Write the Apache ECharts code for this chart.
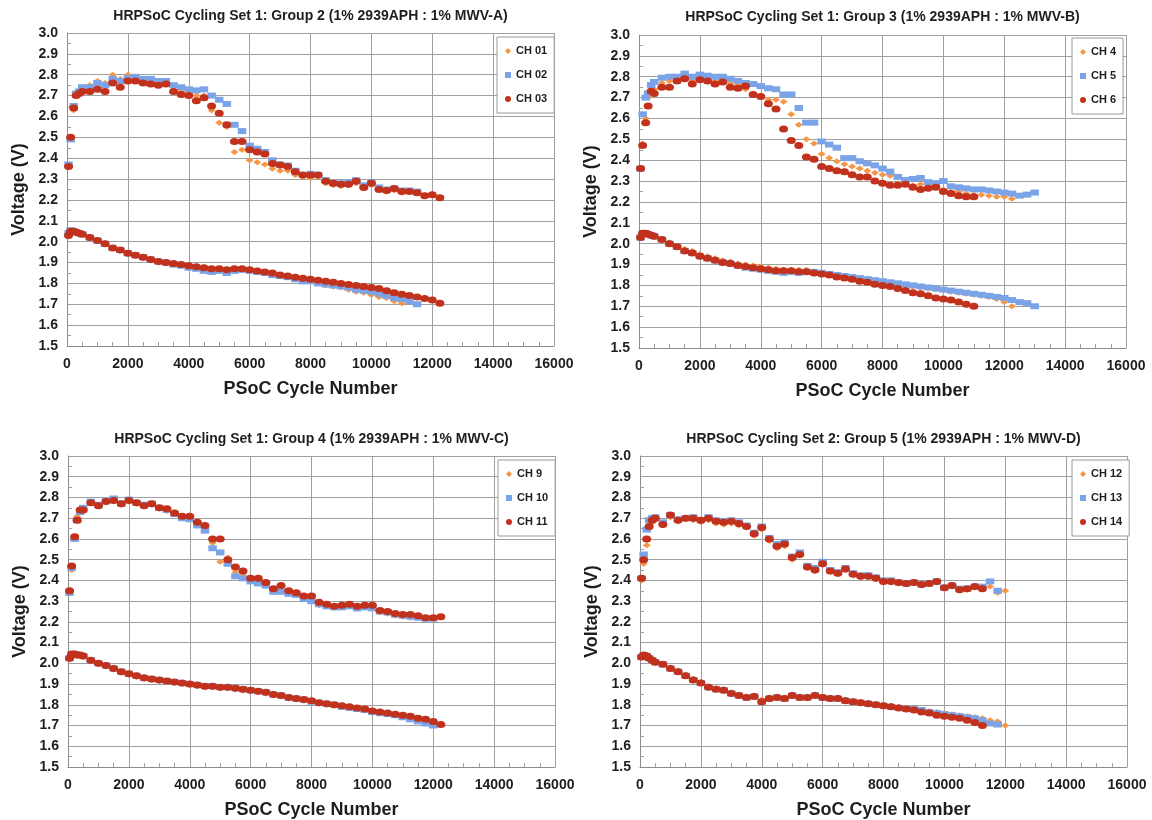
<!DOCTYPE html>
<html>
<head>
<meta charset="utf-8">
<title>HRPSoC Cycling</title>
<script src="https://cdn.jsdelivr.net/npm/echarts@6.0.0/dist/echarts.min.js"></script>
<style>
  html, body { margin: 0; padding: 0; background: #fff; }
  #chart { width: 1152px; height: 820px; }
</style>
</head>
<body>
<div id="chart"></div>
<script>
const cycles = [50, 120, 220, 300, 400, 500,
  750, 1000, 1250, 1500, 1750, 2000, 2250, 2500, 2750, 3000, 3250, 3500, 3750, 4000,
  4250, 4500, 4750, 5000, 5250, 5500, 5750, 6000, 6250, 6500, 6750, 7000,
  7250, 7500, 7750, 8000, 8250, 8500, 8750, 9000, 9250, 9500, 9750, 10000,
  10250, 10500, 10750, 11000, 11250, 11500, 11750, 12000, 12250, 12500, 12750, 13000]

const xTicks = [0, 2000, 4000, 6000, 8000, 10000, 12000, 14000, 16000]
const yTicks = [1.5, 1.6, 1.7, 1.8, 1.9, 2.0, 2.1, 2.2, 2.3, 2.4, 2.5, 2.6, 2.7, 2.8, 2.9, 3.0]

// ---- Group 2 (MWV-A) : upper = end of charge, lower = end of discharge ----
const ch01Up = [2.36, 2.50, 2.63, 2.71, 2.72, 2.74,
  2.75, 2.77, 2.76, 2.80, 2.78, 2.80, 2.79, 2.78, 2.78, 2.77, 2.76, 2.74, 2.72, 2.71,
  2.70, 2.70, 2.63, 2.57, 2.55, 2.43, 2.44, 2.39, 2.38, 2.37, 2.35, 2.34,
  2.34, 2.32, 2.31, 2.305, 2.31, 2.28, 2.27, 2.265, 2.27, 2.28, 2.255, 2.27,
  2.25, 2.24, 2.245, 2.235]
const ch01Lo = [2.03, 2.05, 2.05, 2.045, 2.04, 2.035,
  2.02, 2.005, 1.99, 1.97, 1.96, 1.945, 1.935, 1.92, 1.91, 1.90, 1.895, 1.89, 1.885, 1.88,
  1.875, 1.87, 1.865, 1.865, 1.865, 1.87, 1.865, 1.86, 1.855, 1.85, 1.84, 1.835,
  1.83, 1.82, 1.81, 1.81, 1.80, 1.79, 1.785, 1.78, 1.77, 1.76, 1.755, 1.745,
  1.735, 1.73, 1.715, 1.705]
const ch02Up = [2.37, 2.49, 2.65, 2.71, 2.72, 2.74,
  2.74, 2.76, 2.75, 2.78, 2.77, 2.785, 2.79, 2.78, 2.78, 2.77, 2.77, 2.75, 2.74, 2.73,
  2.725, 2.73, 2.70, 2.68, 2.66, 2.56, 2.53, 2.46, 2.445, 2.43, 2.39, 2.37,
  2.365, 2.34, 2.32, 2.325, 2.32, 2.295, 2.28, 2.28, 2.285, 2.295, 2.27, 2.285,
  2.26, 2.25, 2.255, 2.245, 2.245, 2.24]
const ch02Lo = [2.04, 2.055, 2.05, 2.045, 2.04, 2.035,
  2.02, 2.005, 1.99, 1.97, 1.96, 1.945, 1.935, 1.925, 1.915, 1.905, 1.90, 1.89, 1.885, 1.875,
  1.87, 1.86, 1.855, 1.86, 1.85, 1.86, 1.865, 1.86, 1.855, 1.85, 1.84, 1.835,
  1.83, 1.82, 1.81, 1.81, 1.80, 1.795, 1.79, 1.785, 1.78, 1.77, 1.765, 1.76,
  1.75, 1.74, 1.73, 1.725, 1.715, 1.70]
const ch03Up = [2.36, 2.50, 2.64, 2.70, 2.71, 2.72,
  2.72, 2.73, 2.72, 2.76, 2.74, 2.77, 2.77, 2.76, 2.755, 2.75, 2.755, 2.72, 2.705, 2.70,
  2.675, 2.69, 2.65, 2.615, 2.56, 2.48, 2.48, 2.44, 2.43, 2.42, 2.375, 2.367,
  2.36, 2.335, 2.32, 2.32, 2.32, 2.29, 2.28, 2.275, 2.275, 2.29, 2.26, 2.28,
  2.25, 2.245, 2.255, 2.24, 2.24, 2.235, 2.22, 2.225, 2.21]
const ch03Lo = [2.03, 2.05, 2.05, 2.045, 2.04, 2.035,
  2.02, 2.005, 1.99, 1.97, 1.96, 1.945, 1.935, 1.925, 1.915, 1.905, 1.90, 1.895, 1.89, 1.885,
  1.88, 1.875, 1.87, 1.87, 1.865, 1.87, 1.87, 1.865, 1.86, 1.855, 1.85, 1.84,
  1.835, 1.83, 1.825, 1.82, 1.815, 1.81, 1.805, 1.80, 1.795, 1.79, 1.785, 1.78,
  1.775, 1.765, 1.755, 1.748, 1.742, 1.735, 1.728, 1.72, 1.705]

// ---- Group 3 (MWV-B) ----
const ch4Up = [2.36, 2.48, 2.60, 2.70, 2.74, 2.74,
  2.77, 2.78, 2.78, 2.80, 2.78, 2.80, 2.79, 2.78, 2.785, 2.77, 2.76, 2.74, 2.72, 2.71,
  2.69, 2.69, 2.68, 2.62, 2.57, 2.50, 2.48, 2.43, 2.41, 2.395, 2.38, 2.37,
  2.36, 2.35, 2.34, 2.33, 2.325, 2.29, 2.285, 2.28, 2.285, 2.265, 2.275, 2.26,
  2.25, 2.25, 2.24, 2.235, 2.235, 2.23, 2.225, 2.225, 2.215]
const ch4Lo = [2.03, 2.05, 2.05, 2.045, 2.04, 2.035,
  2.02, 2.005, 1.99, 1.975, 1.965, 1.95, 1.94, 1.93, 1.92, 1.915, 1.905, 1.90, 1.895, 1.89,
  1.885, 1.88, 1.875, 1.875, 1.875, 1.875, 1.865, 1.86, 1.855, 1.85, 1.845, 1.84,
  1.835, 1.83, 1.82, 1.815, 1.81, 1.805, 1.80, 1.795, 1.79, 1.785, 1.78, 1.775,
  1.77, 1.765, 1.76, 1.755, 1.75, 1.745, 1.735, 1.72, 1.70]
const ch5Up = [2.36, 2.62, 2.70, 2.72, 2.76, 2.775,
  2.795, 2.80, 2.80, 2.815, 2.80, 2.81, 2.805, 2.80, 2.80, 2.79, 2.78, 2.77, 2.765, 2.755,
  2.745, 2.74, 2.715, 2.715, 2.65, 2.58, 2.58, 2.49, 2.475, 2.46, 2.41, 2.41,
  2.395, 2.385, 2.375, 2.36, 2.345, 2.32, 2.305, 2.31, 2.315, 2.295, 2.29, 2.30,
  2.275, 2.27, 2.265, 2.26, 2.26, 2.255, 2.25, 2.245, 2.24, 2.23, 2.235, 2.245]
const ch5Lo = [2.03, 2.05, 2.05, 2.045, 2.04, 2.035,
  2.02, 2.00, 1.985, 1.965, 1.955, 1.94, 1.93, 1.92, 1.91, 1.905, 1.895, 1.885, 1.88, 1.875,
  1.87, 1.865, 1.86, 1.865, 1.86, 1.865, 1.865, 1.86, 1.855, 1.85, 1.845, 1.84,
  1.835, 1.83, 1.825, 1.82, 1.815, 1.81, 1.805, 1.80, 1.795, 1.79, 1.785, 1.78,
  1.775, 1.77, 1.765, 1.76, 1.755, 1.75, 1.745, 1.74, 1.73, 1.72, 1.715, 1.70]
const ch6Up = [2.36, 2.47, 2.58, 2.66, 2.73, 2.72,
  2.75, 2.75, 2.78, 2.79, 2.765, 2.785, 2.78, 2.765, 2.775, 2.75, 2.745, 2.755, 2.715, 2.705,
  2.67, 2.645, 2.55, 2.495, 2.47, 2.415, 2.405, 2.37, 2.36, 2.35, 2.345, 2.33,
  2.32, 2.32, 2.30, 2.29, 2.28, 2.28, 2.285, 2.27, 2.26, 2.265, 2.27, 2.25,
  2.24, 2.23, 2.225, 2.225]
const ch6Lo = [2.03, 2.05, 2.05, 2.045, 2.04, 2.035,
  2.02, 2.00, 1.985, 1.965, 1.955, 1.94, 1.93, 1.92, 1.91, 1.905, 1.895, 1.89, 1.885, 1.88,
  1.875, 1.87, 1.87, 1.87, 1.865, 1.865, 1.86, 1.855, 1.85, 1.84, 1.835, 1.83,
  1.82, 1.815, 1.805, 1.80, 1.795, 1.785, 1.775, 1.765, 1.76, 1.75, 1.74, 1.735,
  1.73, 1.72, 1.71, 1.70]

// ---- Group 4 (MWV-C) ----
const ch9Up = [2.34, 2.45, 2.60, 2.71, 2.73, 2.745,
  2.775, 2.76, 2.78, 2.79, 2.765, 2.78, 2.77, 2.76, 2.765, 2.745, 2.735, 2.72, 2.70, 2.70,
  2.67, 2.645, 2.58, 2.49, 2.51, 2.44, 2.425, 2.40, 2.39, 2.385, 2.35, 2.355,
  2.34, 2.335, 2.315, 2.30, 2.28, 2.275, 2.27, 2.27, 2.28, 2.265, 2.27, 2.265,
  2.245, 2.24, 2.23, 2.225, 2.22, 2.22, 2.215, 2.215]
const ch9Lo = [2.02, 2.04, 2.04, 2.035, 2.035, 2.03,
  2.01, 1.995, 1.985, 1.97, 1.955, 1.945, 1.935, 1.925, 1.92, 1.915, 1.91, 1.905, 1.90, 1.895,
  1.89, 1.885, 1.885, 1.88, 1.88, 1.875, 1.87, 1.865, 1.86, 1.855, 1.845, 1.84,
  1.83, 1.825, 1.82, 1.815, 1.805, 1.80, 1.795, 1.79, 1.785, 1.78, 1.775, 1.765,
  1.76, 1.755, 1.75, 1.745, 1.735, 1.725, 1.715, 1.70]
const ch10Up = [2.34, 2.46, 2.60, 2.69, 2.73, 2.75,
  2.78, 2.765, 2.785, 2.795, 2.77, 2.79, 2.775, 2.765, 2.77, 2.75, 2.74, 2.72, 2.70, 2.695,
  2.665, 2.64, 2.555, 2.535, 2.48, 2.42, 2.41, 2.395, 2.385, 2.375, 2.345, 2.345,
  2.335, 2.33, 2.31, 2.30, 2.285, 2.275, 2.27, 2.27, 2.275, 2.265, 2.27, 2.265,
  2.25, 2.245, 2.235, 2.23, 2.225, 2.22, 2.215, 2.215]
const ch10Lo = [2.025, 2.045, 2.045, 2.04, 2.04, 2.035,
  2.015, 2.00, 1.99, 1.975, 1.96, 1.95, 1.94, 1.93, 1.925, 1.92, 1.915, 1.91, 1.905, 1.90,
  1.895, 1.89, 1.89, 1.885, 1.885, 1.88, 1.875, 1.87, 1.865, 1.86, 1.85, 1.845,
  1.835, 1.83, 1.825, 1.815, 1.81, 1.805, 1.80, 1.79, 1.785, 1.78, 1.775, 1.765,
  1.76, 1.755, 1.75, 1.74, 1.73, 1.72, 1.71, 1.70]
const ch11Up = [2.35, 2.47, 2.61, 2.69, 2.74, 2.74,
  2.775, 2.76, 2.78, 2.785, 2.77, 2.785, 2.775, 2.76, 2.77, 2.75, 2.745, 2.725, 2.71, 2.71,
  2.68, 2.665, 2.60, 2.60, 2.50, 2.465, 2.445, 2.41, 2.41, 2.39, 2.36, 2.375,
  2.35, 2.34, 2.325, 2.325, 2.295, 2.285, 2.275, 2.28, 2.285, 2.275, 2.28, 2.28,
  2.255, 2.25, 2.24, 2.235, 2.235, 2.23, 2.22, 2.22, 2.225]
const ch11Lo = [2.025, 2.045, 2.045, 2.04, 2.04, 2.035,
  2.015, 2.00, 1.99, 1.975, 1.96, 1.95, 1.94, 1.93, 1.925, 1.92, 1.915, 1.91, 1.905, 1.90,
  1.895, 1.89, 1.89, 1.885, 1.885, 1.88, 1.875, 1.87, 1.865, 1.86, 1.85, 1.845,
  1.835, 1.83, 1.825, 1.82, 1.81, 1.805, 1.80, 1.795, 1.79, 1.785, 1.78, 1.77,
  1.765, 1.76, 1.755, 1.75, 1.745, 1.735, 1.73, 1.72, 1.705]

// ---- Group 5 (MWV-D) ----
const ch12Up = [2.40, 2.48, 2.57, 2.65, 2.68, 2.69,
  2.665, 2.705, 2.685, 2.695, 2.69, 2.68, 2.69, 2.675, 2.67, 2.675, 2.665, 2.655, 2.615, 2.645,
  2.59, 2.555, 2.565, 2.50, 2.52, 2.46, 2.445, 2.475, 2.44, 2.43, 2.45, 2.425,
  2.415, 2.415, 2.405, 2.39, 2.39, 2.385, 2.38, 2.385, 2.375, 2.38, 2.39, 2.36,
  2.37, 2.355, 2.355, 2.365, 2.36, 2.37, 2.34, 2.35]
const ch12Lo = [2.03, 2.04, 2.035, 2.025, 2.015, 2.005,
  1.995, 1.98, 1.965, 1.945, 1.925, 1.91, 1.89, 1.88, 1.875, 1.86, 1.85, 1.84, 1.845, 1.825,
  1.835, 1.84, 1.835, 1.85, 1.84, 1.84, 1.85, 1.84, 1.835, 1.835, 1.825, 1.82,
  1.815, 1.81, 1.805, 1.80, 1.795, 1.79, 1.785, 1.78, 1.775, 1.77, 1.765, 1.76,
  1.755, 1.75, 1.745, 1.74, 1.735, 1.725, 1.72, 1.70]
const ch13Up = [2.41, 2.525, 2.645, 2.69, 2.70, 2.705,
  2.68, 2.715, 2.695, 2.70, 2.705, 2.69, 2.705, 2.69, 2.685, 2.69, 2.68, 2.665, 2.63, 2.66,
  2.605, 2.575, 2.585, 2.515, 2.535, 2.47, 2.46, 2.49, 2.45, 2.44, 2.46, 2.435,
  2.425, 2.425, 2.415, 2.40, 2.40, 2.39, 2.385, 2.39, 2.38, 2.385, 2.395, 2.365,
  2.375, 2.36, 2.36, 2.37, 2.37, 2.395, 2.35]
const ch13Lo = [2.03, 2.04, 2.035, 2.025, 2.015, 2.005,
  1.995, 1.975, 1.96, 1.94, 1.92, 1.905, 1.885, 1.875, 1.87, 1.855, 1.845, 1.835, 1.84, 1.815,
  1.83, 1.835, 1.83, 1.845, 1.835, 1.835, 1.845, 1.835, 1.83, 1.83, 1.82, 1.815,
  1.81, 1.805, 1.80, 1.795, 1.79, 1.785, 1.78, 1.78, 1.775, 1.765, 1.76, 1.755,
  1.75, 1.745, 1.74, 1.735, 1.725, 1.71, 1.705]
const ch14Up = [2.41, 2.50, 2.60, 2.66, 2.69, 2.70,
  2.67, 2.715, 2.69, 2.70, 2.70, 2.69, 2.70, 2.685, 2.68, 2.685, 2.675, 2.66, 2.625, 2.655,
  2.60, 2.565, 2.575, 2.51, 2.525, 2.465, 2.45, 2.48, 2.445, 2.435, 2.455, 2.43,
  2.42, 2.42, 2.41, 2.395, 2.395, 2.39, 2.385, 2.39, 2.38, 2.385, 2.395, 2.365,
  2.375, 2.355, 2.36, 2.37, 2.36]
const ch14Lo = [2.03, 2.04, 2.035, 2.025, 2.015, 2.005,
  1.995, 1.975, 1.96, 1.94, 1.92, 1.905, 1.885, 1.875, 1.87, 1.855, 1.845, 1.835, 1.84, 1.815,
  1.83, 1.835, 1.83, 1.845, 1.835, 1.835, 1.845, 1.835, 1.83, 1.83, 1.82, 1.815,
  1.81, 1.805, 1.80, 1.795, 1.79, 1.785, 1.78, 1.775, 1.765, 1.76, 1.75, 1.745,
  1.74, 1.735, 1.725, 1.715, 1.70]

// 样式
const FONT = '"Liberation Sans", Arial, sans-serif'
const TEXT = '#1e1e1e'
const GRIDLINE = '#a0a0a0'
// orange diamond / blue square / red dot like the Excel markers,
// drawn a bit wider than tall so the dense runs read as a band
const markers = [
  { color: '#F79646', symbol: 'diamond', size: [8, 6], icon: 5 },
  { color: '#7BA4E8', symbol: 'rect', size: [8.5, 6] },
  { color: '#C2311B', symbol: 'circle', size: [9, 7] }
]
const legendIcons = ['diamond', 'rect', 'circle']

// one panel per cell group
const panels = [
  {
    title: 'HRPSoC Cycling Set 1: Group 2 (1% 2939APH : 1% MWV-A)',
    grid: { left: 67, top: 33, width: 487, height: 313 }, titleTop: 9, legend: { left: 497, top: 37 },
    channels: [['CH 01', ch01Up, ch01Lo], ['CH 02', ch02Up, ch02Lo], ['CH 03', ch03Up, ch03Lo]]
  },
  {
    title: 'HRPSoC Cycling Set 1: Group 3 (1% 2939APH : 1% MWV-B)',
    grid: { left: 639, top: 35, width: 487, height: 313 }, titleTop: 10, legend: { left: 1072, top: 38 },
    channels: [['CH 4', ch4Up, ch4Lo], ['CH 5', ch5Up, ch5Lo], ['CH 6', ch6Up, ch6Lo]]
  },
  {
    title: 'HRPSoC Cycling Set 1: Group 4 (1% 2939APH : 1% MWV-C)',
    grid: { left: 68, top: 456, width: 487, height: 312 }, titleTop: 432, legend: { left: 498, top: 460 },
    channels: [['CH 9', ch9Up, ch9Lo], ['CH 10', ch10Up, ch10Lo], ['CH 11', ch11Up, ch11Lo]]
  },
  {
    title: 'HRPSoC Cycling Set 2: Group 5 (1% 2939APH : 1% MWV-D)',
    grid: { left: 640, top: 456, width: 487, height: 312 }, titleTop: 432, legend: { left: 1072, top: 460 },
    channels: [['CH 12', ch12Up, ch12Lo], ['CH 13', ch13Up, ch13Lo], ['CH 14', ch14Up, ch14Lo]]
  }
]

// upper and lower branch of a channel go into the same scatter series
const toPoints = (up, lo) => {
  const a = up.map((v, i) => [cycles[i], v])
  const b = lo.map((v, i) => [cycles[i], v])
  return a.concat(b)
}

const boldText = (size) => ({ fontFamily: FONT, fontSize: size, fontWeight: 'bold', color: TEXT })

const option = {
  backgroundColor: '#fff',
  animation: false,
  title: panels.map(p => ({
    text: p.title,
    left: p.grid.left + p.grid.width / 2,
    top: p.titleTop,
    textAlign: 'center',
    padding: 0,
    textStyle: boldText(14)
  })),
  legend: panels.map(p => ({
    orient: 'vertical',
    left: p.legend.left,
    top: p.legend.top,
    data: p.channels.map((c, k) => ({ name: c[0], icon: legendIcons[k] })),
    itemWidth: 6,
    itemHeight: 6,
    itemGap: 10,
    padding: [7, 7, 7, 8],
    borderColor: '#9a9a9a',
    borderWidth: 1,
    backgroundColor: '#fff',
    selectedMode: false,
    textStyle: Object.assign(boldText(11), { lineHeight: 14 })
  })),
  grid: panels.map(p => Object.assign({ containLabel: false }, p.grid)),
  xAxis: panels.map((p, i) => ({
    gridIndex: i,
    type: 'value',
    min: xTicks[0],
    max: xTicks[xTicks.length - 1],
    interval: xTicks[1] - xTicks[0],
    name: 'PSoC Cycle Number',
    nameLocation: 'middle',
    nameGap: 34,
    nameTextStyle: boldText(18),
    axisLine: { show: true, onZero: false, lineStyle: { color: '#8c8c8c', width: 1 } },
    axisTick: { show: false },
    minorTick: { show: true, splitNumber: 4, length: -4, lineStyle: { color: '#a0a0a0' } },
    axisLabel: Object.assign(boldText(14), { margin: 11, formatter: v => String(v) }),
    splitLine: { show: true, lineStyle: { color: GRIDLINE, width: 1 } }
  })),
  yAxis: panels.map((p, i) => ({
    gridIndex: i,
    type: 'value',
    min: yTicks[0],
    max: yTicks[yTicks.length - 1],
    interval: 0.1,
    name: 'Voltage (V)',
    nameLocation: 'middle',
    nameGap: 39,
    nameTextStyle: boldText(18),
    axisLine: { show: true, lineStyle: { color: '#8c8c8c', width: 1 } },
    axisTick: { show: false },
    minorTick: { show: true, splitNumber: 2, length: -4, lineStyle: { color: '#a0a0a0' } },
    axisLabel: Object.assign(boldText(14), { margin: 9, formatter: v => v.toFixed(1) }),
    splitLine: { show: true, lineStyle: { color: GRIDLINE, width: 1 } }
  })),
  series: []
}

panels.forEach((p, i) => {
  p.channels.forEach((c, k) => {
    option.series.push({
      name: c[0],
      type: 'scatter',
      xAxisIndex: i,
      yAxisIndex: i,
      symbol: markers[k].symbol,
      symbolSize: markers[k].size,
      itemStyle: { color: markers[k].color, opacity: 1 },
      emphasis: { disabled: true },
      data: toPoints(c[1], c[2])
    })
  })
})

const chart = echarts.init(document.getElementById('chart'))
chart.setOption(option)
window.addEventListener('resize', () => chart.resize())
</script>
</body>
</html>
